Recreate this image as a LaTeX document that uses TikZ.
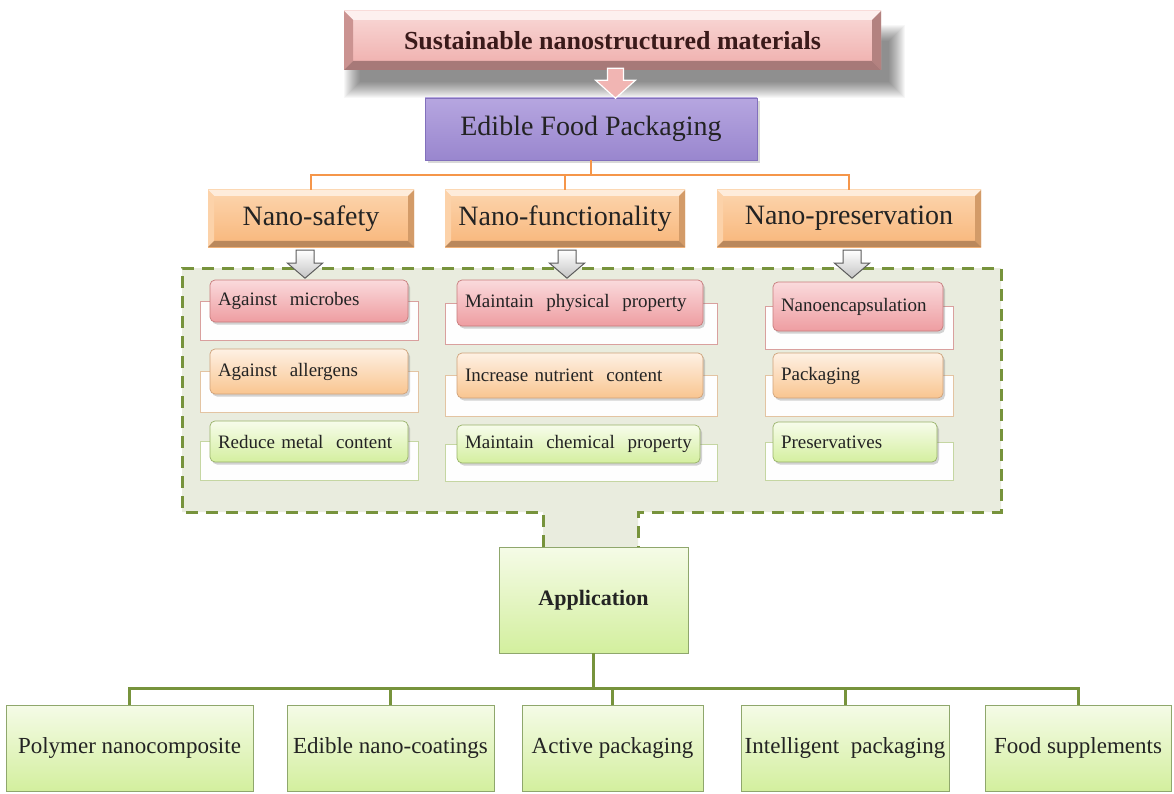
\documentclass[tikz,border=0pt]{standalone}
\usepackage{fontspec}
\setmainfont{Liberation Serif}
\usetikzlibrary{calc,shadows}
\pgfdeclarelayer{background}
\pgfsetlayers{background,main}

\definecolor{bannerTop}{HTML}{F9D9D7}
\definecolor{bannerBot}{HTML}{EFADAB}
\definecolor{bannerText}{HTML}{3A1A1A}
\definecolor{purpTop}{HTML}{B6A6E0}
\definecolor{purpBot}{HTML}{9986CE}
\definecolor{purpEdge}{HTML}{8270BC}
\definecolor{orTop}{HTML}{FCD5AE}
\definecolor{orBot}{HTML}{F8B67A}
\definecolor{orLine}{HTML}{F5964A}
\definecolor{dashGreen}{HTML}{77933C}
\definecolor{regionFill}{HTML}{E9ECDE}
\definecolor{arrowGray}{HTML}{C4C4C4}
\definecolor{arrowEdge}{HTML}{5C5C5C}
\definecolor{pinkArrow}{HTML}{F1B5B3}
\definecolor{appTop}{HTML}{F5FBE7}
\definecolor{appBot}{HTML}{D3EF9E}
\definecolor{appEdge}{HTML}{8FA76C}
\definecolor{txt}{HTML}{232323}
\definecolor{HTMLpinkA}{HTML}{FADADC}
\definecolor{HTMLpinkB}{HTML}{EE9DA1}
\definecolor{HTMLpinkE}{HTML}{C77B7B}
\definecolor{HTMLpinkK}{HTML}{D9A09E}
\definecolor{HTMLorA}{HTML}{FEF1E4}
\definecolor{HTMLorB}{HTML}{F9C590}
\definecolor{HTMLorE}{HTML}{CFA27A}
\definecolor{HTMLorK}{HTML}{E3C4A2}
\definecolor{HTMLgrA}{HTML}{F7FCEB}
\definecolor{HTMLgrB}{HTML}{D4EF9F}
\definecolor{HTMLgrE}{HTML}{98B268}
\definecolor{HTMLgrK}{HTML}{C5D6A2}

\newcommand\ppbb{path picture bounding box}

\tikzset{
  x=1pt, y=-1pt,
  % raised-panel look: light top/left, dark right/bottom
  bevel/.style n args={5}{path picture={
    \fill[#2] (\ppbb.north west) -- (\ppbb.north east)
      -- ([xshift=-#1,yshift=-#1]\ppbb.north east) -- ([xshift=#1,yshift=-#1]\ppbb.north west) -- cycle;
    \fill[#3] (\ppbb.north west) -- ([xshift=#1,yshift=-#1]\ppbb.north west)
      -- ([xshift=#1,yshift=#1]\ppbb.south west) -- (\ppbb.south west) -- cycle;
    \fill[#4] (\ppbb.north east) -- (\ppbb.south east)
      -- ([xshift=-#1,yshift=#1]\ppbb.south east) -- ([xshift=-#1,yshift=-#1]\ppbb.north east) -- cycle;
    \fill[#5] (\ppbb.south west) -- (\ppbb.south east)
      -- ([xshift=-#1,yshift=#1]\ppbb.south east) -- ([xshift=#1,yshift=#1]\ppbb.south west) -- cycle;
  }},
  banner/.style={minimum width=537pt, minimum height=59pt, inner sep=0pt,
    top color=bannerTop, bottom color=bannerBot,
    bevel={9pt}{white!60!bannerTop}{bannerBot!85!black}{bannerBot!75!black}{bannerBot!70!black},
    text=bannerText, font=\fontsize{26}{30}\selectfont\bfseries},
  purple/.style={minimum width=332pt, minimum height=62pt, inner sep=0pt,
    top color=purpTop, bottom color=purpBot, draw=purpEdge, line width=0.6pt,
    drop shadow={shadow xshift=3pt, shadow yshift=-3pt, opacity=0.3},
    text=txt, font=\fontsize{28}{32}\selectfont},
  orangebox/.style={minimum height=57pt, inner sep=0pt,
    top color=orTop, bottom color=orBot,
    bevel={6pt}{white!55!orTop}{orTop!90!orBot}{orBot!85!black}{orBot!75!black},
    text=txt, font=\fontsize{28}{32}\selectfont},
  oline/.style={draw=orLine, line width=2pt},
  gline/.style={draw=dashGreen, line width=3pt},
  grayarrow/.style={draw=arrowEdge, line width=1pt, top color=white, bottom color=arrowGray, line join=miter},
  % colour families of the list items
  fr pink/.style={top color=HTMLpinkA, bottom color=HTMLpinkB, draw=HTMLpinkE},
  bk pink/.style={draw=HTMLpinkK},
  fr orange/.style={top color=HTMLorA, bottom color=HTMLorB, draw=HTMLorE},
  bk orange/.style={draw=HTMLorK},
  fr green/.style={top color=HTMLgrA, bottom color=HTMLgrB, draw=HTMLgrE},
  bk green/.style={draw=HTMLgrK},
  frontbox/.style={fr #1, rounded corners=5pt, line width=0.7pt, inner xsep=8pt, inner ysep=0pt,
    align=left, text=txt, font=\fontsize{19}{22}\selectfont,
    drop shadow={shadow xshift=2pt, shadow yshift=-2.5pt, opacity=0.35}},
  backrect/.style={bk #1, fill=white!97!regionFill, line width=0.8pt, inner sep=0pt},
  appbox/.style={top color=appTop, bottom color=appBot, draw=appEdge, line width=0.8pt,
    inner sep=0pt, text=txt},
  usebox/.style={appbox, minimum height=86pt, font=\fontsize{23}{27}\selectfont},
}

% list entry: name, back x1, back x2, front x1, front x2, front y1, front y2, colour, text
\newcommand\itempair[9]{%
  \pgfmathsetmacro\bya{(#6+#7)/2}%
  \pgfmathsetmacro\byb{#7+18}%
  \pgfmathsetmacro\bw{#3-#2}%
  \pgfmathsetmacro\bh{\byb-\bya}%
  \pgfmathsetmacro\fw{#5-#4-16}%
  \pgfmathsetmacro\fh{#7-#6}%
  \node[backrect=#8, minimum width=\bw pt, minimum height=\bh pt] (#1b)
    at ({(#2+#3)/2},{(\bya+\byb)/2}) {};
  \node[frontbox=#8, text width=\fw pt, minimum height=\fh pt] (#1)
    at ({(#4+#5)/2},{(#6+#7)/2}) {#9};
}

\begin{document}
\begin{tikzpicture}
\useasboundingbox (0,0) rectangle (1174,794);

% title banner and its soft shadow
\node[banner] (top) at (612.5,40.5) {Sustainable nanostructured materials};
\begin{pgfonlayer}{background}
  \fill[white] (0,0) rectangle (1174,794);
  \foreach \k in {0,...,16}{
    \pgfmathsetmacro\o{\k-8}
    \fill[black, opacity=0.032]
      ([xshift=8pt+\o pt, yshift=-22pt-\o pt]top.north west)
      rectangle ([xshift=16pt-\o pt, yshift=-20pt+\o pt]top.south east);
  }
\end{pgfonlayer}

% main topic
\node[purple] (efp) at (591,129) {Edible Food Packaging};
\draw[fill=pinkArrow, draw=white, line width=1.2pt, shift={([xshift=3pt]top.south)}]
  (-8,-2) -- (8,-2) -- (8,10) -- (20,10) -- (0,28) -- (-20,10) -- (-8,10) -- cycle;

% three branches
\node[orangebox, minimum width=206pt] (ns) at (311,218.5) {Nano-safety};
\node[orangebox, minimum width=240pt] (nf) at (565,218.5) {Nano-functionality};
\node[orangebox, minimum width=264pt] (np) at (849,218.5) {Nano-preservation};
\draw[oline] (efp.south) -- ++(0,15) coordinate (ojoin);
\draw[oline] (ojoin) -| (ns.north);
\draw[oline] (ojoin) -| (nf.north);
\draw[oline] (ojoin) -| (np.north);

% dashed grouping region with the tab leading to the application box
\path[fill=regionFill] (182,268) -- (1001,268) -- (1001,512) -- (638,512) -- (638,547)
  -- (543,547) -- (543,512) -- (182,512) -- cycle;
\draw[dashGreen, line width=3pt, dash pattern=on 12pt off 8pt]
  (543,547) -- (543,512) -- (182,512) -- (182,268) -- (1001,268) -- (1001,512) -- (638,512) -- (638,547);

% block arrows into the region
\draw[grayarrow, shift={([xshift=-6pt,yshift=-3pt]ns.south)}]
  (-9,0) -- (9,0) -- (9,13) -- (17.5,13) -- (0,28) -- (-17.5,13) -- (-9,13) -- cycle;
\draw[grayarrow, shift={([xshift=2pt,yshift=-3pt]nf.south)}]
  (-9,0) -- (9,0) -- (9,13) -- (17.5,13) -- (0,28) -- (-17.5,13) -- (-9,13) -- cycle;
\draw[grayarrow, shift={([xshift=3pt,yshift=-3pt]np.south)}]
  (-9,0) -- (9,0) -- (9,13) -- (17.5,13) -- (0,28) -- (-17.5,13) -- (-9,13) -- cycle;

% list entries
\itempair{s1}{200}{418}{210}{408}{280}{322}{pink}{Against\ \ microbes}
\itempair{s2}{200}{418}{210}{408}{349}{394}{orange}{Against\ \ allergens}
\itempair{s3}{200}{418}{210}{408}{421}{462}{green}{Reduce\ metal\ \ content}
\itempair{f1}{445}{717}{457}{703}{280}{326}{pink}{Maintain\ \ physical\ \ property}
\itempair{f2}{445}{717}{457}{703}{353}{398}{orange}{Increase\ nutrient\ \ content}
\itempair{f3}{445}{717}{457}{700}{425}{463}{green}{Maintain\ \ chemical\ \ property}
\itempair{p1}{765}{953}{773}{943}{282}{331}{pink}{Nanoencapsulation}
\itempair{p2}{765}{953}{773}{943}{353}{398}{orange}{Packaging}
\itempair{p3}{765}{953}{773}{937}{422}{462}{green}{Preservatives}

% application and its five uses
\node[appbox, minimum width=189pt, minimum height=106pt,
  font=\fontsize{22}{26}\selectfont\bfseries] (app) at (593.5,600) {Application};
\node[usebox, minimum width=247pt] (b1) at (129.5,748) {Polymer nanocomposite};
\node[usebox, minimum width=207pt] (b2) at (390.5,748) {Edible nano-coatings};
\node[usebox, minimum width=181pt] (b3) at (612.5,748) {Active packaging};
\node[usebox, minimum width=208pt] (b4) at (845,748) {Intelligent\ \ packaging};
\node[usebox, minimum width=186pt] (b5) at (1078,748) {Food supplements};
\draw[gline] (app.south) -- ++(0,35) coordinate (gjoin);
\foreach \b in {b1,b2,b3,b4,b5}{
  \draw[gline] (gjoin) -| (\b.north);
}
\end{tikzpicture}
\end{document}
